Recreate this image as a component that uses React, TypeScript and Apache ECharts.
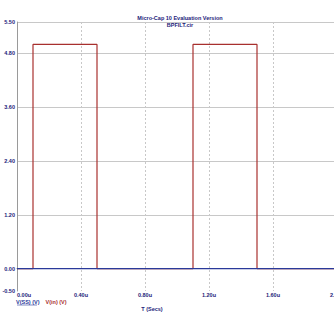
import React, { useEffect, useRef } from "react";
import * as echarts from "echarts";

const titleLines = ["Micro-Cap 10 Evaluation Version", "BPFILT.cir"];
const xTicks = [0, 0.4, 0.8, 1.2, 1.6, 2.0];
const yTicks = [-0.5, 0, 1.2, 2.4, 3.6, 4.8, 5.5];
const yGridValues = [0, 1.2, 2.4, 3.6, 4.8, 5.5];
// V(in) pulse: time (us) and level (V)
const vinTimes = [0, 0.1, 0.1, 0.5, 0.5, 1.1, 1.1, 1.5, 1.5, 2.0];
const vinLevels = [0, 0, 5, 5, 0, 0, 5, 5, 0, 0];
const vssTimes = [0, 2.0];
const vssLevels = [0, 0];

const NAVY = "#1c1c7a";
const RED = "#a8302e";
const BLUE = "#2a3a9a";
const GRIDC = "#c8c8c8";

export default function App() {
  const ref = useRef<HTMLDivElement>(null);
  useEffect(() => {
    document.body.style.margin = "0";
    const chart = echarts.init(ref.current!, null, { renderer: "svg" });
    const lblFont = { fontFamily: "Liberation Sans, Arial, sans-serif", fontSize: 5.5, fontWeight: "bold" as const, color: NAVY };
    chart.setOption({
      animation: false,
      backgroundColor: "#ffffff",
      title: {
        text: titleLines.join("\n"),
        left: 175,
        top: 9,
        textAlign: "center",
        textStyle: { ...lblFont, fontSize: 5.5, lineHeight: 7 },
      },
      legend: {
        left: 16,
        top: 299,
        icon: "none",
        itemWidth: 0,
        itemHeight: 0,
        itemGap: 6,
        padding: 0,
        data: [
          { name: "V(SS) (V)", textStyle: { ...lblFont, color: BLUE, padding: [0, 0, 0, -5] } },
          { name: "V(in) (V)", textStyle: { ...lblFont, color: RED, padding: [0, 0, 0, -5] } },
        ],
      },
      grid: { left: 17, top: 22, width: 320, height: 269, outerBoundsMode: "none", containLabel: false },
      xAxis: {
        type: "value",
        min: xTicks[0],
        max: xTicks[xTicks.length - 1],
        interval: 0.4,
        name: "T (Secs)",
        nameLocation: "middle",
        nameGap: 15,
        nameTextStyle: { ...lblFont, padding: [0, 50, 0, 0] },
        axisLine: { show: true, lineStyle: { color: "#9a9a9a", width: 1 } },
        axisTick: { show: false },
        axisLabel: {
          ...lblFont,
          margin: 1,
          alignMinLabel: "left",
          formatter: (v: number) => v.toFixed(2) + "u",
        },
        splitLine: { show: true, lineStyle: { color: GRIDC, type: [2, 2], width: 1 } },
      },
      yAxis: {
        type: "value",
        min: -0.5,
        max: 5.5,
        axisLine: { show: true, onZero: false, lineStyle: { color: "#9a9a9a", width: 1 } },
        axisTick: { show: false },
        axisLabel: {
          ...lblFont,
          margin: 2,
          customValues: yTicks,
          formatter: (v: number) => v.toFixed(2),
        },
        splitLine: { show: false },
      },
      series: [
        {
          name: "V(in) (V)",
          type: "line",
          data: vinTimes.map((t, i) => [t, vinLevels[i]]),
          showSymbol: false,
          lineStyle: { color: RED, width: 1.2 },
          itemStyle: { color: RED },
          markLine: {
            silent: true,
            symbol: "none",
            label: { show: false },
            lineStyle: { color: GRIDC, type: "solid", width: 1 },
            data: yGridValues.map((y) => ({ yAxis: y })),
            z: 0,
          },
          z: 3,
        },
        {
          name: "V(SS) (V)",
          type: "line",
          data: vssTimes.map((t, i) => [t, vssLevels[i]]),
          showSymbol: false,
          lineStyle: { color: BLUE, width: 1.2 },
          itemStyle: { color: BLUE },
          z: 4,
        },
      ],
      graphic: [
        {
          type: "line",
          shape: { x1: 17, y1: 305, x2: 37, y2: 305 },
          style: { stroke: BLUE, lineWidth: 0.6 },
        },
      ],
    });
    return () => chart.dispose();
  }, []);
  return <div ref={ref} style={{ width: 334, height: 325 }} />;
}
